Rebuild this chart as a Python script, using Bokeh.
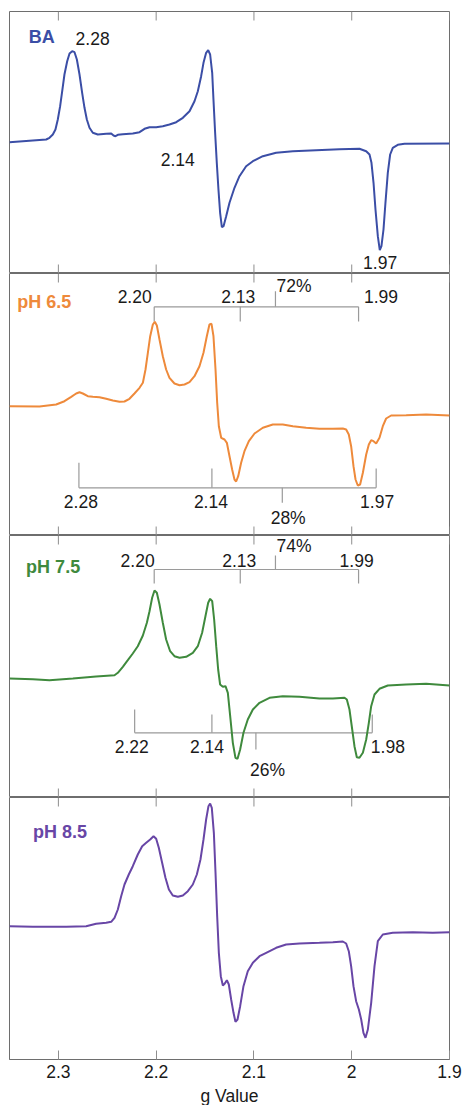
from bokeh.plotting import figure
from bokeh.layouts import column
from bokeh.models import Range1d, LinearAxis, FixedTicker
from bokeh.core.properties import value
from bokeh.embed import file_html
from bokeh.resources import INLINE

FONT = "Liberation Sans"
X_TICKS = [2.3, 2.2, 2.1, 2.0, 1.9]
X_LABEL = "g Value"

# ---------------- data (g value, intensity in arbitrary units) ----------------
ba_g = [2.350, 2.3125, 2.3091, 2.3057, 2.3030, 2.3006, 2.2982, 2.2961, 2.2938, 2.2910,
        2.2886, 2.2859, 2.2835, 2.2811, 2.2784, 2.2757, 2.2733, 2.2709, 2.2682, 2.2648,
        2.2597, 2.2511, 2.2460, 2.2436, 2.2416, 2.2392, 2.2341, 2.2239, 2.2170, 2.2119,
        2.2068, 2.2000, 2.1932, 2.1864, 2.1795, 2.1727, 2.1659, 2.1608, 2.1574, 2.1540,
        2.1516, 2.1489, 2.1468, 2.1448, 2.1427, 2.1414, 2.1397, 2.1380, 2.1363, 2.1346,
        2.1328, 2.1311, 2.1284, 2.1250, 2.1199, 2.1148, 2.1080, 2.1011, 2.0909, 2.0773,
        2.0602, 2.0364, 2.0125, 1.9921, 1.9852, 1.9818, 1.9798, 1.9777, 1.9757, 1.9733,
        1.9713, 1.9696, 1.9675, 1.9655, 1.9631, 1.9607, 1.9580, 1.9529, 1.9460, 1.900]
ba_i = [131.3, 134, 135.7, 139, 144, 154, 167.3, 182.3, 199, 212.3,
        220, 222.3, 221.3, 214, 199, 180.7, 165.7, 154, 145.7, 140.7,
        139, 139.7, 140, 138, 137.3, 138.7, 139.3, 140, 141.3, 144.7,
        146.3, 146.3, 147.3, 149, 151.3, 155.7, 162.3, 172.3, 182.3, 197.3,
        210.7, 220.7, 223.3, 219, 200.7, 174, 140.7, 110.7, 84, 60.7,
        46.3, 47.3, 57.3, 70.7, 85.7, 97.3, 107.3, 112.3, 117.3, 120.7,
        122.3, 123.3, 124.3, 124.7, 122.3, 119, 110.7, 90.7, 64, 37.3,
        23.3, 27.3, 44, 70.7, 100.7, 119, 125.7, 128.7, 129.7, 130]

ph65_g = [2.350, 2.3193, 2.3023, 2.2938, 2.2869, 2.2818, 2.2784, 2.2750, 2.2699, 2.2648,
          2.2580, 2.2511, 2.2443, 2.2375, 2.2324, 2.2273, 2.2222, 2.2170, 2.2136, 2.2109,
          2.2085, 2.2061, 2.2034, 2.2014, 2.1993, 2.1966, 2.1932, 2.1898, 2.1864, 2.1813,
          2.1761, 2.1710, 2.1659, 2.1608, 2.1557, 2.1516, 2.1482, 2.1455, 2.1434, 2.1414,
          2.1393, 2.1376, 2.1359, 2.1335, 2.1301, 2.1277, 2.1250, 2.1223, 2.1199, 2.1182,
          2.1161, 2.1131, 2.1097, 2.1052, 2.0994, 2.0909, 2.0807, 2.0705, 2.0602, 2.0466,
          2.0330, 2.0193, 2.0091, 2.0057, 2.0030, 2.0006, 1.9982, 1.9961, 1.9938, 1.9914,
          1.9886, 1.9852, 1.9825, 1.9801, 1.9777, 1.9750, 1.9716, 1.9682, 1.9648, 1.9597,
          1.9443, 1.9239, 1.900]
ph65_i = [129.3, 129, 131, 134.3, 138.7, 142, 143.3, 142, 139.3, 138.7,
          138.3, 136.7, 135, 133.7, 134, 136.7, 142, 147.7, 152.7, 166,
          182.7, 199.3, 211, 213.7, 210, 196, 179.3, 166, 157.7, 152,
          150.3, 151, 153.3, 159.3, 169.3, 182.7, 199.3, 211, 211.7, 199.3,
          166, 132.7, 109.3, 97.7, 96, 92.7, 79.3, 66, 56, 54,
          59.3, 72.7, 84.3, 94.3, 102, 107.7, 111, 111, 109.3, 107.7,
          106.7, 106.7, 107, 106, 101, 89.3, 69.3, 56, 50, 51,
          62.7, 81, 91, 95.3, 94.3, 92, 97.7, 109.3, 117, 120,
          120.3, 121, 120]

ph75_g = [2.350, 2.3261, 2.3091, 2.2852, 2.2614, 2.2426, 2.2392, 2.2341, 2.2290, 2.2239,
          2.2188, 2.2136, 2.2095, 2.2068, 2.2041, 2.2017, 2.1993, 2.1966, 2.1932, 2.1898,
          2.1857, 2.1813, 2.1761, 2.1693, 2.1625, 2.1574, 2.1530, 2.1496, 2.1468, 2.1448,
          2.1427, 2.1407, 2.1386, 2.1366, 2.1346, 2.1318, 2.1291, 2.1267, 2.1243, 2.1216,
          2.1189, 2.1168, 2.1141, 2.1107, 2.1063, 2.1011, 2.0943, 2.0841, 2.0705, 2.0534,
          2.0330, 2.0193, 2.0074, 2.0050, 2.0023, 1.9995, 1.9972, 1.9948, 1.9921, 1.9886,
          1.9852, 1.9825, 1.9801, 1.9767, 1.9716, 1.9631, 1.9443, 1.9239, 1.900]
ph75_i = [119, 118.3, 117.3, 119, 121, 122.3, 124.7, 130.7, 137.3, 144,
          151.3, 162, 174.7, 186.3, 199.7, 207, 204.7, 193, 174.7, 158,
          146.3, 141.3, 139.7, 140.7, 144.7, 151.3, 164.7, 181.3, 194.7, 198.7,
          196.3, 178, 151.3, 128, 113, 110.7, 111.3, 104.7, 81.3, 54.7,
          39.7, 38.7, 48, 64.7, 78, 88, 94.7, 99.7, 101.3, 100.7,
          99, 99, 99.7, 98, 88, 68, 51.3, 40.3, 39.7, 44.7,
          58, 74.7, 91.3, 103, 108.7, 112, 113, 113.7, 112]

ph85_g = [2.350, 2.3261, 2.2920, 2.2716, 2.2614, 2.2511, 2.2460, 2.2426, 2.2392, 2.2358,
          2.2324, 2.2280, 2.2239, 2.2188, 2.2143, 2.2102, 2.2061, 2.2027, 2.2000, 2.1973,
          2.1939, 2.1905, 2.1870, 2.1830, 2.1778, 2.1727, 2.1676, 2.1625, 2.1584, 2.1547,
          2.1516, 2.1489, 2.1465, 2.1448, 2.1431, 2.1410, 2.1393, 2.1376, 2.1359, 2.1339,
          2.1318, 2.1298, 2.1277, 2.1257, 2.1233, 2.1209, 2.1189, 2.1168, 2.1141, 2.1107,
          2.1063, 2.1011, 2.0943, 2.0875, 2.0773, 2.0671, 2.0534, 2.0330, 2.0193, 2.0091,
          2.0057, 2.0030, 2.0006, 1.9982, 1.9955, 1.9927, 1.9903, 1.9880, 1.9859, 1.9835,
          1.9801, 1.9767, 1.9733, 1.9682, 1.9580, 1.9375, 1.9171, 1.900]
ph85_i = [133.3, 132.7, 132.7, 133.3, 135.7, 136.7, 137.7, 141.7, 150, 163.3,
          175, 185, 193.3, 205, 213.3, 216.7, 220, 223.3, 220.7, 211.7,
          196.7, 181.7, 170, 164, 162.7, 164, 168.3, 175, 185, 200,
          220, 240, 253.3, 256, 251.7, 226.7, 186.7, 143.3, 106.7, 83.3,
          74, 76, 79.3, 75, 60, 46.7, 37.7, 40, 53.3, 73.3,
          88.3, 96.7, 103.3, 106.7, 111.7, 115, 116, 116.7, 117.3, 118,
          116, 108.3, 93.3, 73.3, 58.3, 50, 40, 26.7, 21.7, 30,
          56.7, 93.3, 118.3, 125, 126.7, 127.3, 126.7, 127.3]

# peak-assignment labels
ba_labels = ["2.28", "2.14", "1.97"]
ph65_upper_labels = ["2.20", "2.13", "1.99"]
ph65_upper_pct = "72%"
ph65_lower_labels = ["2.28", "2.14", "1.97"]
ph65_lower_pct = "28%"
ph75_upper_labels = ["2.20", "2.13", "1.99"]
ph75_upper_pct = "74%"
ph75_lower_labels = ["2.22", "2.14", "1.98"]
ph75_lower_pct = "26%"

# bracket tick positions (g)
ph65_upper_ticks = [2.202, 2.114, 1.993]
ph65_upper_pct_g = 2.078
ph65_lower_ticks = [2.279, 2.143, 1.975]
ph65_lower_pct_g = 2.071
ph75_upper_ticks = [2.202, 2.114, 1.993]
ph75_upper_pct_g = 2.078
ph75_lower_ticks = [2.222, 2.143, 1.979]
ph75_lower_pct_g = 2.098

BLUE = "#3b4ea6"
ORANGE = "#ee8a3b"
GREEN = "#3f8a3d"
PURPLE = "#6846a6"
FRAME = "#6e6e6e"
TICK = "#8e8e8e"
BRACKET = "#9a9a9a"
TXT = "#1a1a1a"

H = 262      # frame height in px == y-range span
TICK_LEN = 9


def make_fig(top_border, labelled_bottom):
    p = figure(frame_width=440, frame_height=H,
               x_range=Range1d(2.35, 1.9), y_range=Range1d(0, H),
               output_backend="svg", toolbar_location=None,
               x_axis_location=None, y_axis_location=None,
               min_border_left=9, min_border_right=13,
               min_border_top=top_border, min_border_bottom=0)
    p.grid.visible = False
    p.outline_line_color = FRAME
    p.outline_line_width = 1
    p.background_fill_color = "white"
    p.border_fill_color = "white"
    # inward ticks on the top edge (and bottom edge unless a real axis is there)
    n = len(X_TICKS)
    x0 = list(X_TICKS)
    y0 = [H - TICK_LEN] * n
    y1 = [H] * n
    if not labelled_bottom:
        x0 += list(X_TICKS)
        y0 += [0] * n
        y1 += [TICK_LEN] * n
    p.segment(x0=x0, y0=y0, x1=x0, y1=y1, line_color=TICK, line_width=1)
    if labelled_bottom:
        ax = LinearAxis(ticker=FixedTicker(ticks=X_TICKS))
        ax.major_tick_in = TICK_LEN
        ax.major_tick_out = 0
        ax.minor_tick_in = 0
        ax.minor_tick_out = 0
        ax.major_tick_line_color = TICK
        ax.axis_line_color = FRAME
        ax.major_label_text_font = FONT
        ax.major_label_text_font_size = "17.5px"
        ax.major_label_text_color = TXT
        ax.major_label_standoff = 5
        ax.major_label_overrides = {2: "2"}
        ax.axis_label = X_LABEL
        ax.axis_label_text_font = FONT
        ax.axis_label_text_font_size = "17.5px"
        ax.axis_label_text_font_style = "normal"
        ax.axis_label_text_color = TXT
        ax.axis_label_standoff = 5
        p.add_layout(ax, "below")
    return p


def texts(p, xs, ys, labels, color=TXT, bold=False, align="center", size="17.5px"):
    p.text(x=xs, y=ys, text=labels, text_color=color,
           text_font=value(FONT), text_font_size=value(size),
           text_font_style="bold" if bold else "normal",
           text_align=align, text_baseline="middle")


def bracket(p, ticks, y_line, y_tick, pct_g, y_pct, first_tick_end=None):
    x0 = [min(ticks)] + list(ticks) + [pct_g]
    x1 = [max(ticks)] + list(ticks) + [pct_g]
    y0 = [y_line] * (len(ticks) + 2)
    y1 = [y_line] + [y_tick] * len(ticks) + [y_pct]
    if first_tick_end is not None:
        y1[1] = first_tick_end
    p.segment(x0=x0, y0=y0, x1=x1, y1=y1, line_color=BRACKET, line_width=1.2)


# ---- BA ----
p1 = make_fig(11, False)
p1.line(ba_g, ba_i, line_color=BLUE, line_width=2)
texts(p1, [2.317], [237], ["BA"], color=BLUE, bold=True, size="18px")
texts(p1, [2.265, 2.178, 1.971], [235, 114, 11], ba_labels)

# ---- pH 6.5 ----
p2 = make_fig(0, False)
bracket(p2, ph65_upper_ticks, 228.7, 214, ph65_upper_pct_g, 244.3)
bracket(p2, ph65_lower_ticks, 47.7, 67, ph65_lower_pct_g, 32.7, first_tick_end=72.7)
p2.line(ph65_g, ph65_i, line_color=ORANGE, line_width=2)
texts(p2, [2.342], [234], ["pH 6.5"], color=ORANGE, bold=True, align="left", size="18px")
texts(p2, [2.222, 2.116, 1.970], [239.3] * 3, ph65_upper_labels)
texts(p2, [2.059], [249.3], [ph65_upper_pct])
texts(p2, [2.277, 2.144, 1.974], [33.7] * 3, ph65_lower_labels)
texts(p2, [2.065], [17.7], [ph65_lower_pct])

# ---- pH 7.5 ----
p3 = make_fig(0, False)
bracket(p3, ph75_upper_ticks, 228, 214, ph75_upper_pct_g, 242)
bracket(p3, ph75_lower_ticks, 64.7, 83, ph75_lower_pct_g, 48, first_tick_end=88)
p3.line(ph75_g, ph75_i, line_color=GREEN, line_width=2)
texts(p3, [2.333], [231], ["pH 7.5"], color=GREEN, bold=True, align="left", size="18px")
texts(p3, [2.219, 2.115, 1.995], [237.3] * 3, ph75_upper_labels)
texts(p3, [2.059], [251.3], [ph75_upper_pct])
texts(p3, [2.225, 2.148, 1.963], [51.3] * 3, ph75_lower_labels)
texts(p3, [2.086], [28], [ph75_lower_pct])

# ---- pH 8.5 ----
p4 = make_fig(0, True)
p4.line(ph85_g, ph85_i, line_color=PURPLE, line_width=2)
texts(p4, [2.326], [227.3], ["pH 8.5"], color=PURPLE, bold=True, align="left", size="18px")

layout = column(p1, p2, p3, p4, spacing=0)

open("out.html", "w").write(file_html(layout, INLINE))
